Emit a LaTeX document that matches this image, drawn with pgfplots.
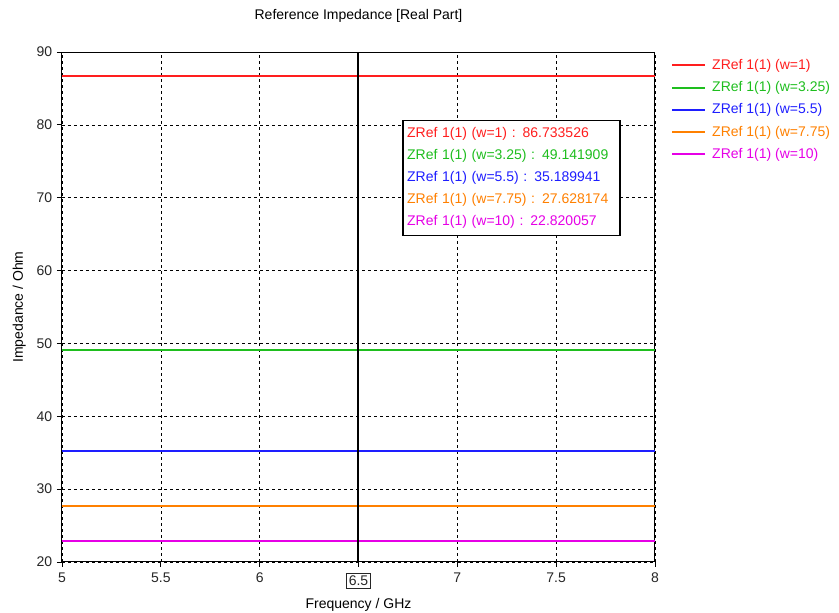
\documentclass[border=0pt]{standalone}
\usepackage{pgfplots}
\pgfplotsset{compat=1.18}
\usepackage{fontspec}
\setmainfont{Liberation Sans}
\definecolor{cred}{RGB}{255,30,30}
\definecolor{cgreen}{RGB}{30,190,30}
\definecolor{cblue}{RGB}{30,30,255}
\definecolor{corange}{RGB}{255,128,0}
\definecolor{cmag}{RGB}{230,0,230}
\begin{document}
\fontsize{14}{16}\selectfont
\begin{tikzpicture}[x=1pt,y=1pt]
\useasboundingbox (-62,-51) rectangle (777,562);
\begin{axis}[
  at={(0,0)}, anchor=south west,
  scale only axis, width=593pt, height=510pt,
  xmin=5, xmax=8, ymin=20, ymax=90,
  xtick={5,5.5,6,6.5,7,7.5,8},
  xticklabels={5,5.5,6,{\setlength{\fboxsep}{2pt}\setlength{\fboxrule}{0.9pt}\fbox{6.5}},7,7.5,8},
  ytick={20,30,40,50,60,70,80,90},
  /pgf/number format/assume math mode=true,
  tick align=outside, major tick length=5pt,
  tick style={black, line width=0.8pt},
  xtick pos=bottom, ytick pos=left,
  grid=major,
  grid style={black, dash pattern=on 3pt off 3pt, line width=0.6pt},
  axis line style={black, line width=1pt},
  tick label style={font=\fontsize{14}{16}\selectfont, text=black!85},
  xticklabel style={yshift=-1pt},
  title={Reference Impedance [Real Part]},
  title style={font=\fontsize{14}{16}\selectfont, at={(0.5,1)}, yshift=27pt, anchor=base},
  xlabel={Frequency / GHz},
  ylabel={Impedance / Ohm},
  xlabel style={font=\fontsize{14}{16}\selectfont, at={(0.5,0)}, anchor=base, yshift=-47pt},
  ylabel style={font=\fontsize{14}{16}\selectfont, at={(0,0.5)}, anchor=base, yshift=39pt},
  legend style={at={(1,1)}, anchor=north west, xshift=13pt, yshift=-3pt, draw=none, fill=none,
    font=\fontsize{14}{16}\selectfont, row sep=6pt, cells={anchor=west}},
  legend image code/.code={\draw[#1, line width=2pt] (0pt,0pt) -- (33pt,0pt); \path (37pt,0pt);},
  clip=false,
]
\addplot[draw=cred, line width=2pt] coordinates {(5,86.733526) (8,86.733526)};
\addlegendentry{\textcolor{cred}{ZRef 1(1) (w=1)}}
\addplot[draw=cgreen, line width=2pt] coordinates {(5,49.141909) (8,49.141909)};
\addlegendentry{\textcolor{cgreen}{ZRef 1(1) (w=3.25)}}
\addplot[draw=cblue, line width=2pt] coordinates {(5,35.189941) (8,35.189941)};
\addlegendentry{\textcolor{cblue}{ZRef 1(1) (w=5.5)}}
\addplot[draw=corange, line width=2pt] coordinates {(5,27.628174) (8,27.628174)};
\addlegendentry{\textcolor{corange}{ZRef 1(1) (w=7.75)}}
\addplot[draw=cmag, line width=2pt] coordinates {(5,22.820057) (8,22.820057)};
\addlegendentry{\textcolor{cmag}{ZRef 1(1) (w=10)}}
\addplot[color=black, line width=2pt, forget plot] coordinates {(6.5,20) (6.5,90)};
\node[draw=black, line width=1.6pt, fill=white, anchor=north west, align=left,
  inner xsep=4pt, inner ysep=7pt, font=\fontsize{14}{22}\selectfont, text width=209pt]
  at (axis cs:6.722,80.7) {%
  \textcolor{cred}{ZRef 1(1) (w=1) : 86.733526}\\
  \textcolor{cgreen}{ZRef 1(1) (w=3.25) : 49.141909}\\
  \textcolor{cblue}{ZRef 1(1) (w=5.5) : 35.189941}\\
  \textcolor{corange}{ZRef 1(1) (w=7.75) : 27.628174}\\
  \textcolor{cmag}{ZRef 1(1) (w=10) : 22.820057}};
\end{axis}
\end{tikzpicture}
\end{document}
